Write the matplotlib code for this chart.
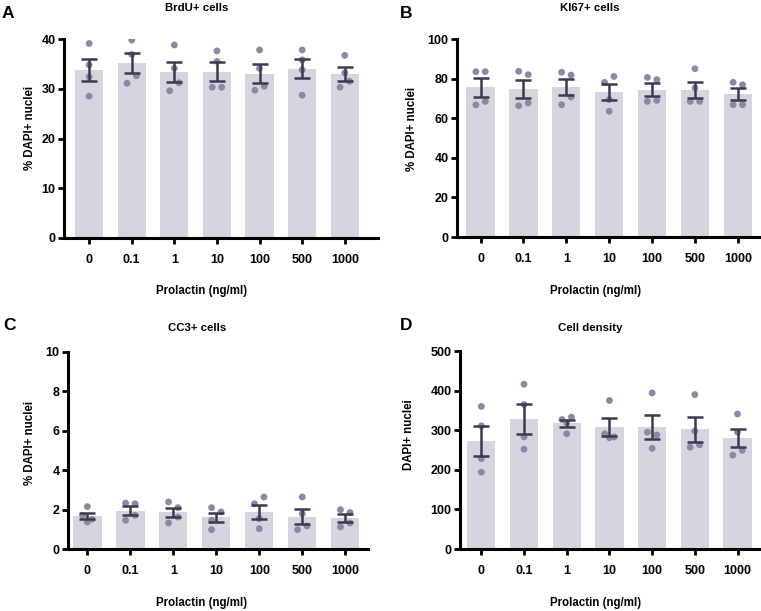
import matplotlib
matplotlib.use("Agg")
import matplotlib.pyplot as plt
import numpy as np

plt.rcParams['font.family'] = ['Liberation Sans', 'DejaVu Sans']
plt.rcParams['font.weight'] = 'bold'

categories = ["0", "0.1", "1", "10", "100", "500", "1000"]
xlabel = "Prolactin (ng/ml)"

# individual replicate values per dose
brdu_points = [[39.1, 34.8, 32.4, 28.5], [39.8, 36.9, 32.6, 31.1], [38.8, 34.1, 31.2, 29.6],
               [37.6, 35.5, 30.3, 30.3], [37.8, 34.1, 29.7, 30.5], [37.8, 35.8, 33.8, 28.7],
               [36.7, 33.2, 31.5, 30.3]]
ki67_points = [[83.5, 83.5, 66.7, 68.5], [83.7, 82.0, 66.3, 67.7], [83.2, 81.8, 70.7, 66.8],
               [78.1, 81.1, 69.4, 63.5], [80.6, 79.5, 68.5, 69.0], [85.0, 75.3, 68.5, 68.5],
               [78.1, 76.9, 66.8, 66.8]]
cc3_points = [[2.15, 1.70, 1.37, 1.51], [2.33, 2.30, 1.46, 1.71], [2.39, 2.10, 1.32, 1.62],
              [2.10, 1.88, 1.46, 0.98], [2.64, 2.30, 1.54, 1.03], [2.64, 1.79, 1.17, 0.98],
              [2.00, 1.85, 1.32, 1.12]]
density_points = [[360, 311, 228, 194], [416, 365, 283, 252], [327, 318, 333, 291],
                  [375, 291, 281, 283], [394, 295, 288, 254], [390, 298, 257, 263],
                  [341, 295, 249, 237]]

# horizontal spread of the dots (multiples of a small step)
brdu_spread = [[0, 0, 0, 0], [0, 0, 1, -1], [0, 0, 1, -1], [0, 0, -1, 1], [0, 0, -1, 1], [0, 0, 0, 0], [0, 0, 1, -1]]
ki67_spread = [[-1, 1, -1, 1], [-1, 1, -1, 1], [-1, 1, 1, -1], [-1, 1, 0, 0], [-1, 1, -1, 1], [0, 0, -1, 1], [-1, 1, -1, 1]]
cc3_spread = [[0, -1, 0, 1], [-1, 1, -1, 1], [-1, 1, -1, 1], [-1, 1, -1, -1], [1, -1, 0, 0], [0, 0, 1, -1], [-1, 1, 1, -1]]
density_spread = [[0, 0, 0, 0], [0, 0, 0, 0], [-1, 0, 1, 0], [0, -1, 0, 1], [0, -1, 1, 0], [0, 0, -1, 1], [0, 0, 1, -1]]

panels = [
    dict(letter="A", title="BrdU+ cells", ylabel="% DAPI+ nuclei", pts=brdu_points, spread=brdu_spread,
         yticks=[0, 10, 20, 30, 40], rect=[64, 39, 378, 238], xlim=(-0.59, 6.78),
         title_xy=(197, 8), xlab_xy=(202, 291), ylab_xy=(30, 128), letter_xy=(2, 14)),
    dict(letter="B", title="KI67+ cells", ylabel="% DAPI+ nuclei", pts=ki67_points, spread=ki67_spread,
         yticks=[0, 20, 40, 60, 80, 100], rect=[457, 39, 761, 237], xlim=(-0.55, 6.54),
         title_xy=(590, 8), xlab_xy=(596, 291), ylab_xy=(412, 129), letter_xy=(400, 13)),
    dict(letter="C", title="CC3+ cells", ylabel="% DAPI+ nuclei", pts=cc3_points, spread=cc3_spread,
         yticks=[0, 2, 4, 6, 8, 10], rect=[68, 352, 368, 549], xlim=(-0.45, 6.53),
         title_xy=(197, 328), xlab_xy=(202, 603), ylab_xy=(30, 443), letter_xy=(3, 326)),
    dict(letter="D", title="Cell density", ylabel="DAPI+ nuclei", pts=density_points, spread=density_spread,
         yticks=[0, 100, 200, 300, 400, 500], rect=[460, 351, 761, 549], xlim=(-0.5, 6.55),
         title_xy=(590, 328), xlab_xy=(596, 603), ylab_xy=(409, 435), letter_xy=(400, 326)),
]

W, H = 761, 611
fig = plt.figure(figsize=(W / 100, H / 100), dpi=100)

bar_color = "#d5d5df"
dot_color = "#8b88a3"
err_color = "#3b3a50"


def fx(px):
    return px / W


def fy(py):
    return 1 - py / H


for p in panels:
    l, t, r, b = p["rect"]
    ax = fig.add_axes([l / W, 1 - b / H, (r - l) / W, (b - t) / H])
    x = np.arange(len(categories))
    pts = [np.array(v, dtype=float) for v in p["pts"]]
    means = np.array([v.mean() for v in pts])
    sems = np.array([v.std(ddof=1) / np.sqrt(len(v)) for v in pts])
    ax.bar(x, means, width=0.66, color=bar_color, zorder=1)
    for i, (v, s) in enumerate(zip(pts, p["spread"])):
        ax.scatter(x[i] + 0.11 * np.array(s), v, s=24, color=dot_color, edgecolors='none', zorder=2)
    ax.errorbar(x, means, yerr=sems, fmt='none', ecolor=err_color, elinewidth=1.8,
                capsize=5.5, capthick=1.8, zorder=3)
    ax.set_xlim(*p["xlim"])
    ax.set_ylim(0, p["yticks"][-1])
    ax.set_yticks(p["yticks"])
    ax.set_xticks(x)
    ax.set_xticklabels(categories)
    for s in ["top", "right"]:
        ax.spines[s].set_visible(False)
    for s in ["left", "bottom"]:
        ax.spines[s].set_linewidth(2.2)
    ax.tick_params(axis='both', width=2, length=4, labelsize=9, direction='out')
    ax.tick_params(axis='x', pad=7.5)
    ax.tick_params(axis='y', pad=2)
    for lab in ax.get_xticklabels() + ax.get_yticklabels():
        lab.set_fontweight('bold')
    ax.patch.set_alpha(0)

    tx, ty = p["title_xy"]
    fig.text(fx(tx), fy(ty), p["title"], fontsize=8.2, fontweight='bold', ha='center', va='center')
    lx, ly = p["xlab_xy"]
    fig.text(fx(lx), fy(ly), xlabel, fontsize=8.3, fontweight='bold', ha='center', va='center')
    yx, yy = p["ylab_xy"]
    fig.text(fx(yx), fy(yy), p["ylabel"], fontsize=8.3, fontweight='bold', ha='center', va='center',
             rotation=90)
    ax_, ay_ = p["letter_xy"]
    fig.text(fx(ax_), fy(ay_), p["letter"], fontsize=12.5, fontweight='bold', ha='left', va='center')

fig.savefig("out.png", dpi=100)
